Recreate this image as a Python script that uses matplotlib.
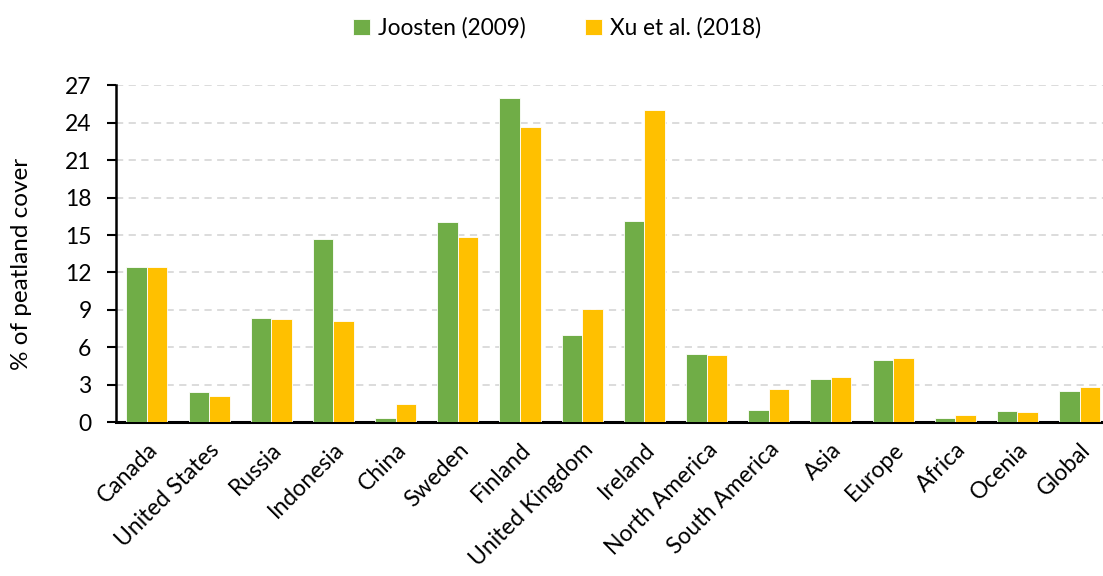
import numpy as np
import matplotlib.pyplot as plt

plt.rcParams['font.family'] = ['Lato', 'DejaVu Sans']

regions = ['Canada', 'United States', 'Russia', 'Indonesia', 'China', 'Sweden',
           'Finland', 'United Kingdom', 'Ireland', 'North America', 'South America',
           'Asia', 'Europe', 'Africa', 'Ocenia', 'Global']
joosten = [12.4, 2.4, 8.35, 14.65, 0.3, 16.05, 26.0, 7.0, 16.15, 5.5, 0.95,
           3.45, 4.95, 0.35, 0.9, 2.5]
xu = [12.4, 2.1, 8.3, 8.1, 1.45, 14.85, 23.65, 9.05, 25.0, 5.4, 2.7,
      3.6, 5.15, 0.55, 0.85, 2.85]

green = '#70AD47'
yellow = '#FFC000'

fig = plt.figure(figsize=(11.03, 5.76), dpi=100)
# plot area runs a little past the right edge of the figure
ax = fig.add_axes([0.105, 0.267, 0.902, 0.585])

x = np.arange(len(regions))
w = 0.33
ax.bar(x - w / 2, joosten, w, color=green, edgecolor='white', linewidth=0.6,
       label='Joosten (2009)', zorder=3)
ax.bar(x + w / 2, xu, w, color=yellow, edgecolor='white', linewidth=0.6,
       label='Xu et al. (2018)', zorder=3)

ax.set_xlim(-0.5, len(regions) - 0.5)
ax.set_ylim(0, 27)
ax.set_yticks(np.arange(0, 28, 3))
ax.yaxis.grid(True, color='#d9d9d9', linestyle=(0, (4, 3)), linewidth=1.3, zorder=0)
ax.set_axisbelow(True)

ax.set_xticks(x)
ax.set_xticklabels(regions, rotation=45, ha='right', rotation_mode='anchor')
ax.tick_params(axis='x', length=0, pad=12, labelsize=16.5)
ax.tick_params(axis='y', length=6.5, width=1.5, pad=11, labelsize=16.5)

for s in ['top', 'right']:
    ax.spines[s].set_visible(False)
ax.spines['left'].set_linewidth(1.8)
ax.spines['bottom'].set_linewidth(2.2)

ax.set_ylabel('% of peatland cover', fontsize=17.5)
ax.yaxis.set_label_coords(-0.084, 0.47)

fig.legend(loc='upper center', bbox_to_anchor=(0.505, 1.005), ncol=2, frameon=False,
           fontsize=16.3, handlelength=0.75, handleheight=0.75, columnspacing=2.6,
           handletextpad=0.35)

fig.savefig('out.png', dpi=100)
